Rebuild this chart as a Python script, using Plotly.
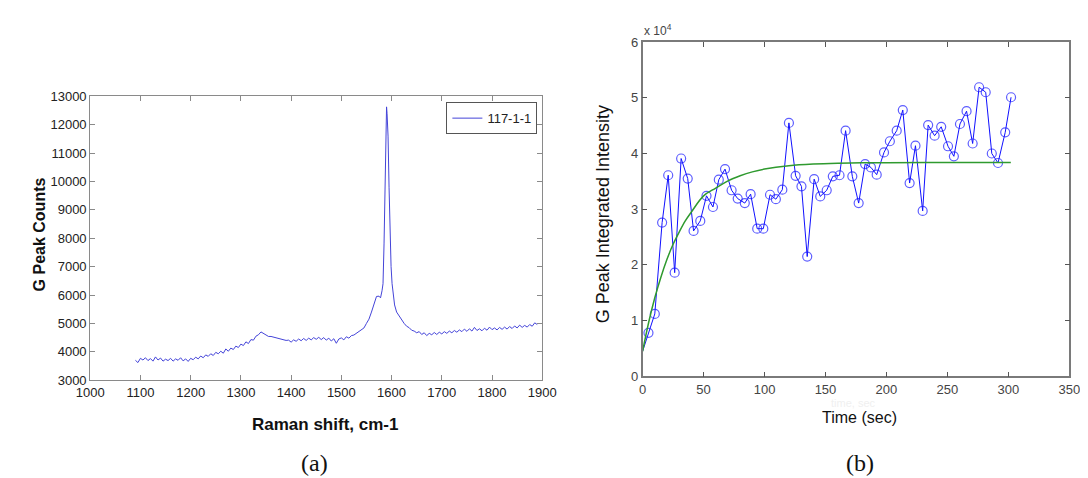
import plotly.graph_objects as go

# ---------- (a) Raman spectrum ----------
raman_shift = [1090, 1095, 1100, 1105, 1110, 1115, 1120, 1125, 1130, 1135, 1140, 1145, 1150, 1155, 1160,
               1165, 1170, 1175, 1180, 1185, 1190, 1195, 1200, 1205, 1210, 1215, 1220, 1225, 1230, 1235,
               1240, 1245, 1250, 1255, 1260, 1265, 1270, 1275, 1280, 1285, 1290, 1295, 1300, 1305, 1310,
               1315, 1320, 1325, 1330, 1335, 1340, 1345, 1350, 1355, 1360, 1365, 1370, 1375, 1380, 1385,
               1390, 1395, 1400, 1405, 1410, 1415, 1420, 1425, 1430, 1435, 1440, 1445, 1450, 1455, 1460,
               1465, 1470, 1475, 1480, 1485, 1490, 1495, 1500, 1505, 1510, 1515, 1520, 1525, 1530, 1535,
               1540, 1545, 1550, 1555, 1560, 1565, 1570, 1575, 1578, 1581, 1583, 1585, 1587, 1589, 1590,
               1591, 1593, 1595, 1597, 1599, 1601, 1603, 1606, 1610, 1615, 1620, 1625, 1630, 1635, 1640,
               1645, 1650, 1655, 1660, 1665, 1670, 1675, 1680, 1685, 1690, 1695, 1700, 1705, 1710, 1715,
               1720, 1725, 1730, 1735, 1740, 1745, 1750, 1755, 1760, 1765, 1770, 1775, 1780, 1785, 1790,
               1795, 1800, 1805, 1810, 1815, 1820, 1825, 1830, 1835, 1840, 1845, 1850, 1855, 1860, 1865,
               1870, 1875, 1880, 1885, 1890]
g_counts = [3700, 3620, 3770, 3710, 3790, 3690, 3760, 3670, 3820, 3710, 3780, 3670, 3740, 3690, 3770,
            3670, 3750, 3700, 3790, 3680, 3750, 3660, 3770, 3720, 3810, 3750, 3850, 3790, 3890, 3840,
            3930, 3870, 3980, 3930, 4020, 3950, 4100, 4020, 4130, 4080, 4200, 4150, 4270, 4220, 4350,
            4290, 4430, 4410, 4550, 4600, 4700, 4650, 4620, 4540, 4540, 4520, 4490, 4480, 4450, 4440,
            4400, 4410, 4340, 4420, 4370, 4450, 4390, 4470, 4400, 4480, 4420, 4500, 4440, 4510, 4430,
            4500, 4410, 4480, 4380, 4460, 4300, 4450, 4490, 4420, 4530, 4480, 4570, 4590, 4650, 4690,
            4770, 4840, 5000, 5150, 5400, 5700, 5950, 5960, 5900, 6150, 6400, 7800, 10200, 12300, 12630,
            12400, 11600, 9800, 8000, 7000, 6400, 6000, 5650, 5400, 5250, 5100, 5000, 4900, 4850, 4760,
            4730, 4670, 4710, 4610, 4670, 4570, 4650, 4600, 4680, 4610, 4690, 4630, 4710, 4650, 4730,
            4670, 4750, 4690, 4770, 4710, 4800, 4720, 4810, 4730, 4860, 4750, 4810, 4740, 4830, 4760,
            4870, 4780, 4840, 4770, 4860, 4790, 4870, 4800, 4890, 4820, 4910, 4840, 4940, 4860, 4930,
            4870, 4960, 4900, 5020, 4960]
spectrum_name = "117-1-1"

# ---------- (b) Integrated intensity vs time ----------
time_sec = [0, 4.8, 10, 16, 21, 26.3, 31.6, 37, 41.8, 47.3, 52.4, 57.7, 62.5, 67.6, 73, 78, 83.8, 88.6,
            94, 99, 104.5, 109.3, 114.6, 120, 125.5, 130.3, 135, 140.7, 145.7, 151, 156, 161.5, 166.5,
            172, 177.2, 182.5, 187.3, 192, 198, 202.8, 208.4, 213.4, 219, 223.8, 229.7, 234.2, 239.5,
            244.9, 250.5, 255.3, 260.3, 265.7, 270.7, 276, 281.4, 286.4, 291.5, 297.4, 302.2]
intensity = [4500, 7800, 11200, 27600, 36100, 18600, 39100, 35500, 26100, 27900, 32400, 30400, 35300,
             37200, 33400, 31900, 31100, 32700, 26500, 26500, 32600, 31800, 33500, 45500, 36000, 34100,
             21500, 35400, 32300, 33400, 35900, 36100, 44100, 35900, 31100, 38100, 37500, 36200, 40200,
             42200, 44100, 47800, 34700, 41400, 29700, 45100, 43200, 44800, 41300, 39500, 45300, 47600,
             41800, 51900, 51000, 40000, 38300, 43800, 50100]
fit_time = [0, 5, 10, 15, 20, 25, 30, 35, 40, 50, 60, 70, 80, 90, 100, 120, 140, 160, 180, 200, 250, 302]
fit_value = [4500, 9700, 14100, 17800, 21000, 23700, 25900, 27900, 29500, 32400, 33800, 35100, 36000,
             36700, 37200, 37800, 38100, 38250, 38320, 38350, 38400, 38400]

y2_ticks = [0, 10000, 20000, 30000, 40000, 50000, 60000]
y2_labels = ["0", "1", "2", "3", "4", "5", "6"]

W, H = 1088, 478
def px(x): return x / W
def py(y): return 1 - y / H

SANS = "Liberation Sans, Arial, sans-serif"
SERIF = "Liberation Serif, Times New Roman, serif"

fig = go.Figure()
fig.add_trace(go.Scatter(x=raman_shift, y=g_counts, mode="lines", name=spectrum_name,
                         line=dict(color="#4444d8", width=1), xaxis="x", yaxis="y"))

marker_sizes = [0] + [9] * (len(time_sec) - 1)
fig.add_trace(go.Scatter(x=time_sec, y=intensity, mode="lines+markers", showlegend=False,
                         line=dict(color="#1010ff", width=1),
                         marker=dict(symbol="circle-open", size=marker_sizes, color="#1a1aff",
                                     line=dict(width=1.2, color="#1a1aff")),
                         xaxis="x2", yaxis="y2"))
fig.add_trace(go.Scatter(x=fit_time, y=fit_value, mode="lines", showlegend=False,
                         line=dict(color="#2f9a2f", width=1.5, shape="spline"),
                         xaxis="x2", yaxis="y2"))

axis_common = dict(showgrid=False, zeroline=False, showline=True, mirror="ticks",
                   ticks="inside", ticklen=5)


def ann(text, x, y, size, family=SANS, color="#111111", angle=0, xanchor="center"):
    return dict(text=text, x=px(x), y=py(y), xref="paper", yref="paper", textangle=angle,
                xanchor=xanchor, yanchor="middle", showarrow=False,
                font=dict(family=family, size=size, color=color))


fig.update_layout(
    width=W, height=H,
    margin=dict(l=0, r=0, t=0, b=0),
    paper_bgcolor="white", plot_bgcolor="white",
    showlegend=True,
    legend=dict(x=px(529), y=py(90), xanchor="right", yanchor="top",
                bordercolor="#555555", borderwidth=1, bgcolor="white",
                font=dict(family=SANS, size=13, color="#222222"),
                tracegroupgap=0, itemwidth=30),
    xaxis=dict(domain=[px(70), px(534)], range=[1000, 1900], dtick=100, tick0=1000, tickformat="d",
               linecolor="#8a8a8a", linewidth=1, tickcolor="#8a8a8a",
               tickfont=dict(family=SANS, size=13, color="#222222"), anchor="y", **axis_common),
    yaxis=dict(domain=[py(377), py(84)], range=[3000, 13000], dtick=1000, tick0=3000, tickformat="d",
               linecolor="#8a8a8a", linewidth=1, tickcolor="#8a8a8a",
               tickfont=dict(family=SANS, size=13, color="#222222"), anchor="x", **axis_common),
    xaxis2=dict(domain=[px(637), px(1075)], range=[0, 350], dtick=50, tick0=0,
                linecolor="#7a7a7a", linewidth=1.5, tickcolor="#555555",
                tickfont=dict(family=SANS, size=13, color="#444444"), anchor="y2", **axis_common),
    yaxis2=dict(domain=[py(373), py(28)], range=[0, 60000], tickvals=y2_ticks, ticktext=y2_labels,
                linecolor="#7a7a7a", linewidth=1.5, tickcolor="#555555",
                tickfont=dict(family=SANS, size=13, color="#444444"), anchor="x2", **axis_common),
    annotations=[
        ann("<b>G Peak Counts</b>", 18, 227, 16, angle=-90),
        ann("<b>Raman shift, cm-1</b>", 311, 423, 17),
        ann("(a)", 300, 462, 24, family=SERIF),
        ann("(b)", 860, 462, 24, family=SERIF),
        ann("G Peak Integrated Intensity", 596, 206, 18, angle=-90),
        ann("Time (sec)", 860, 416, 16),
        ann("time, sec", 853, 401, 11, color="#f0f0f0"),
        ann("x 10<sup>4</sup>", 636, 16, 12, color="#444444", xanchor="left"),
    ],
)

fig.write_html("out.html")
